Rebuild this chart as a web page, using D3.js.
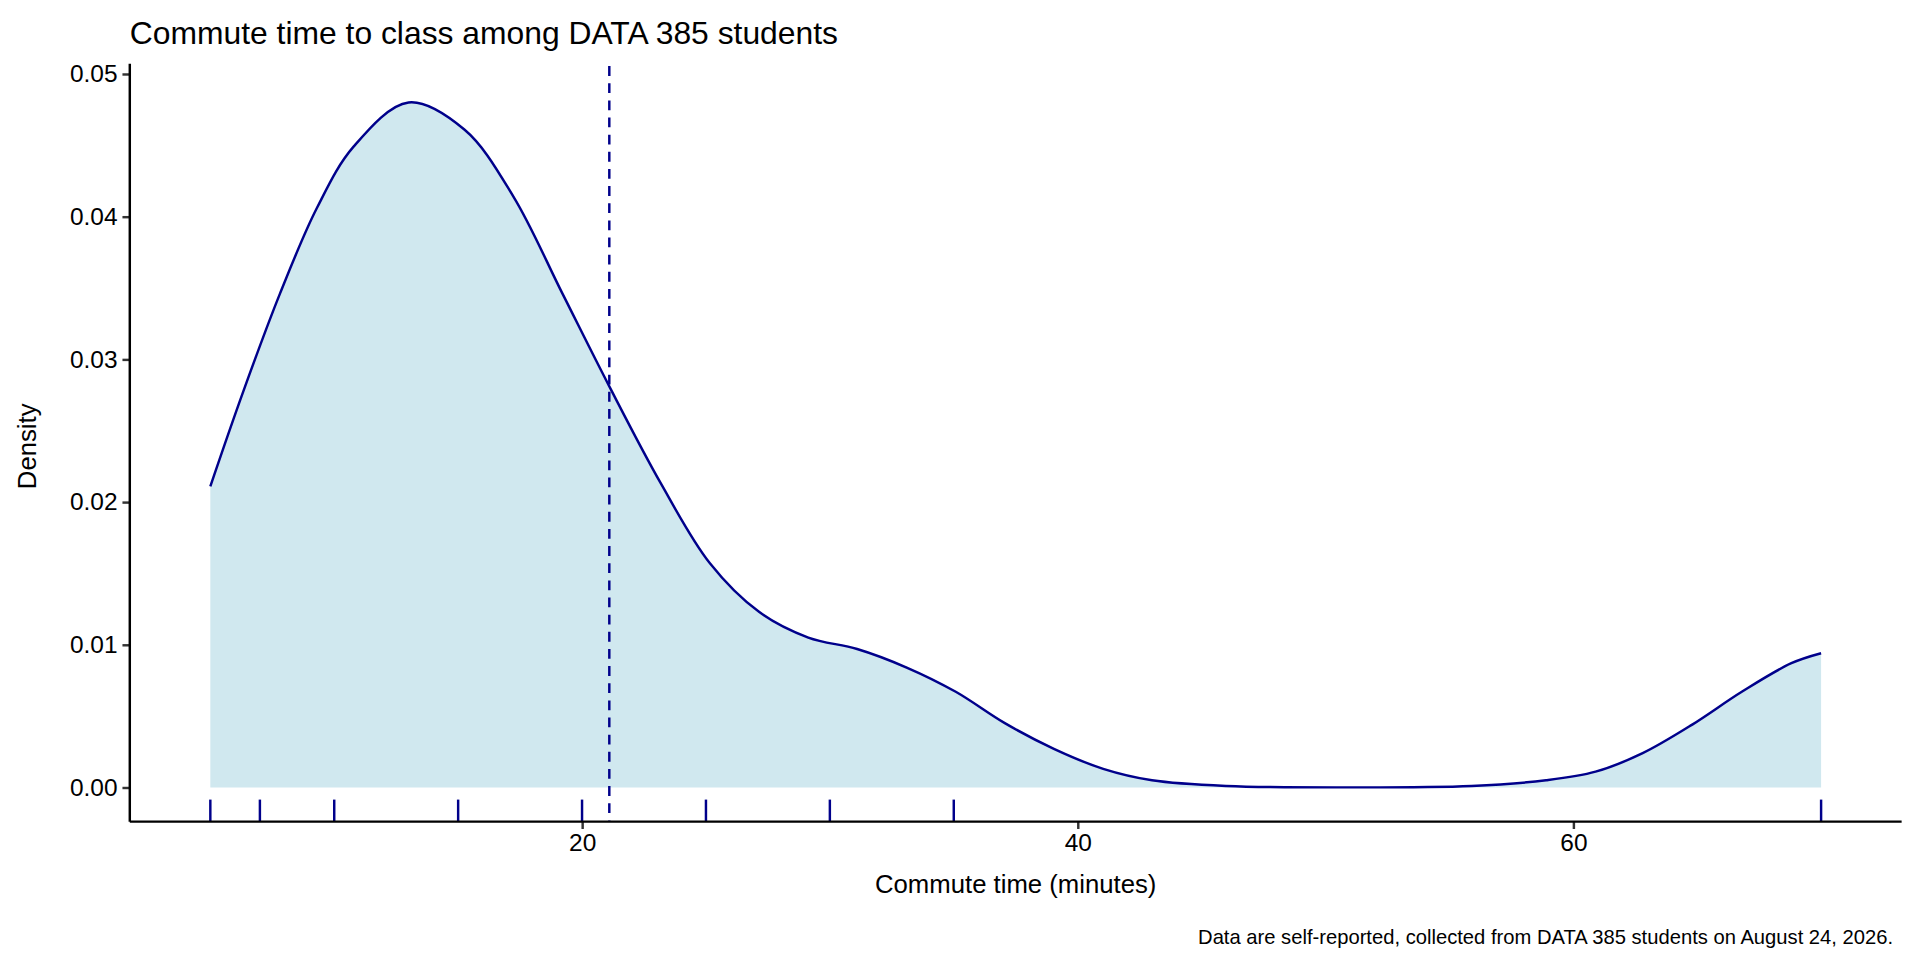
<!DOCTYPE html><html><head><meta charset="utf-8"><script src="https://cdn.jsdelivr.net/npm/d3@7"></script>
<style>body{margin:0;background:#fff}text{font-family:"Liberation Sans",Arial,sans-serif}</style></head><body><svg id="c" width="1920" height="960" viewBox="0 0 1568 784"></svg>
<script>
const curveX = [5,6.32,7.81,9.3,10.78,13.0,15.25,17.23,19.21,21.1,23.18,25.16,27.14,29.13,31.1,33.1,35.08,37.06,39.04,41.03,43.0,46.0,50.9,55.9,58.9,60.9,62.8,64.8,66.8,68.8,70];
const density = [0.0211,0.0277,0.0346,0.0406,0.0449,0.0480,0.0461,0.0414,0.0346,0.0281,0.0213,0.0157,0.0123,0.0105,0.0097,0.0084,0.0067,0.0045,0.0027,0.0013,0.0005,0.0001,0,0.0001,0.0005,0.0011,0.0024,0.0044,0.0067,0.0087,0.0094];
const rugValues = [5,7,10,15,20,25,30,35,70];
const meanValue = 21.1;
const xTicks = [20,40,60];
const yTicks = [0,0.01,0.02,0.03,0.04,0.05];
const svg = d3.select("#c");
const L=106,R=1553,T=58,B=671;
const x = d3.scaleLinear().domain([1.75,73.25]).range([L,R]);
const y = d3.scaleLinear().domain([-0.0024,0.0502]).range([B,T]);
const pts = curveX.map((v,i)=>[v,density[i]]);
const cv = d3.curveCatmullRom.alpha(0.5);
svg.append("path").datum(pts).attr("fill","#d0e8ef")
  .attr("d",d3.area().x(d=>x(d[0])).y0(y(0)).y1(d=>y(Math.max(0,d[1]))).curve(cv));
svg.append("path").datum(pts).attr("fill","none").attr("stroke","#00008b").attr("stroke-width",2)
  .attr("d",d3.line().x(d=>x(d[0])).y(d=>y(d[1])).curve(cv));
svg.append("line").attr("x1",x(meanValue)).attr("x2",x(meanValue)).attr("y1",T-4).attr("y2",B)
  .attr("stroke","#00008b").attr("stroke-width",2).attr("stroke-dasharray","8,6");
svg.selectAll(".rug").data(rugValues).enter().append("line")
  .attr("x1",d=>x(d)).attr("x2",d=>x(d)).attr("y1",B-18).attr("y2",B).attr("stroke","#00008b").attr("stroke-width",2);
const gx = svg.append("g").attr("transform",`translate(0,${B})`).call(d3.axisBottom(x).tickValues(xTicks).tickSize(6).tickPadding(4));
const gy = svg.append("g").attr("transform",`translate(${L},0)`).call(d3.axisLeft(y).tickValues(yTicks).tickFormat(d3.format(".2f")).tickSize(6).tickPadding(4));
[gx,gy].forEach(g=>{
  g.selectAll(".tick line").attr("stroke","#333").attr("stroke-width",2);
  g.selectAll("text").attr("font-size",20).attr("fill","#000").attr("font-family","Liberation Sans, Arial, sans-serif");});
gx.select(".domain").remove(); gy.select(".domain").remove();
svg.append("line").attr("x1",L).attr("x2",R).attr("y1",B).attr("y2",B).attr("stroke","#000").attr("stroke-width",2);
svg.append("line").attr("x1",L).attr("x2",L).attr("y1",T-6).attr("y2",B).attr("stroke","#000").attr("stroke-width",2);
svg.append("text").attr("x",L).attr("y",36).attr("font-size",26).text("Commute time to class among DATA 385 students");
svg.append("text").attr("x",(L+R)/2).attr("y",729).attr("text-anchor","middle").attr("font-size",21).text("Commute time (minutes)");
svg.append("text").attr("transform",`translate(29,${(T+B)/2}) rotate(-90)`).attr("text-anchor","middle").attr("font-size",21).text("Density");
svg.append("text").attr("x",1546).attr("y",771).attr("text-anchor","end").attr("font-size",16.5).text("Data are self-reported, collected from DATA 385 students on August 24, 2026.");
</script></body></html>
